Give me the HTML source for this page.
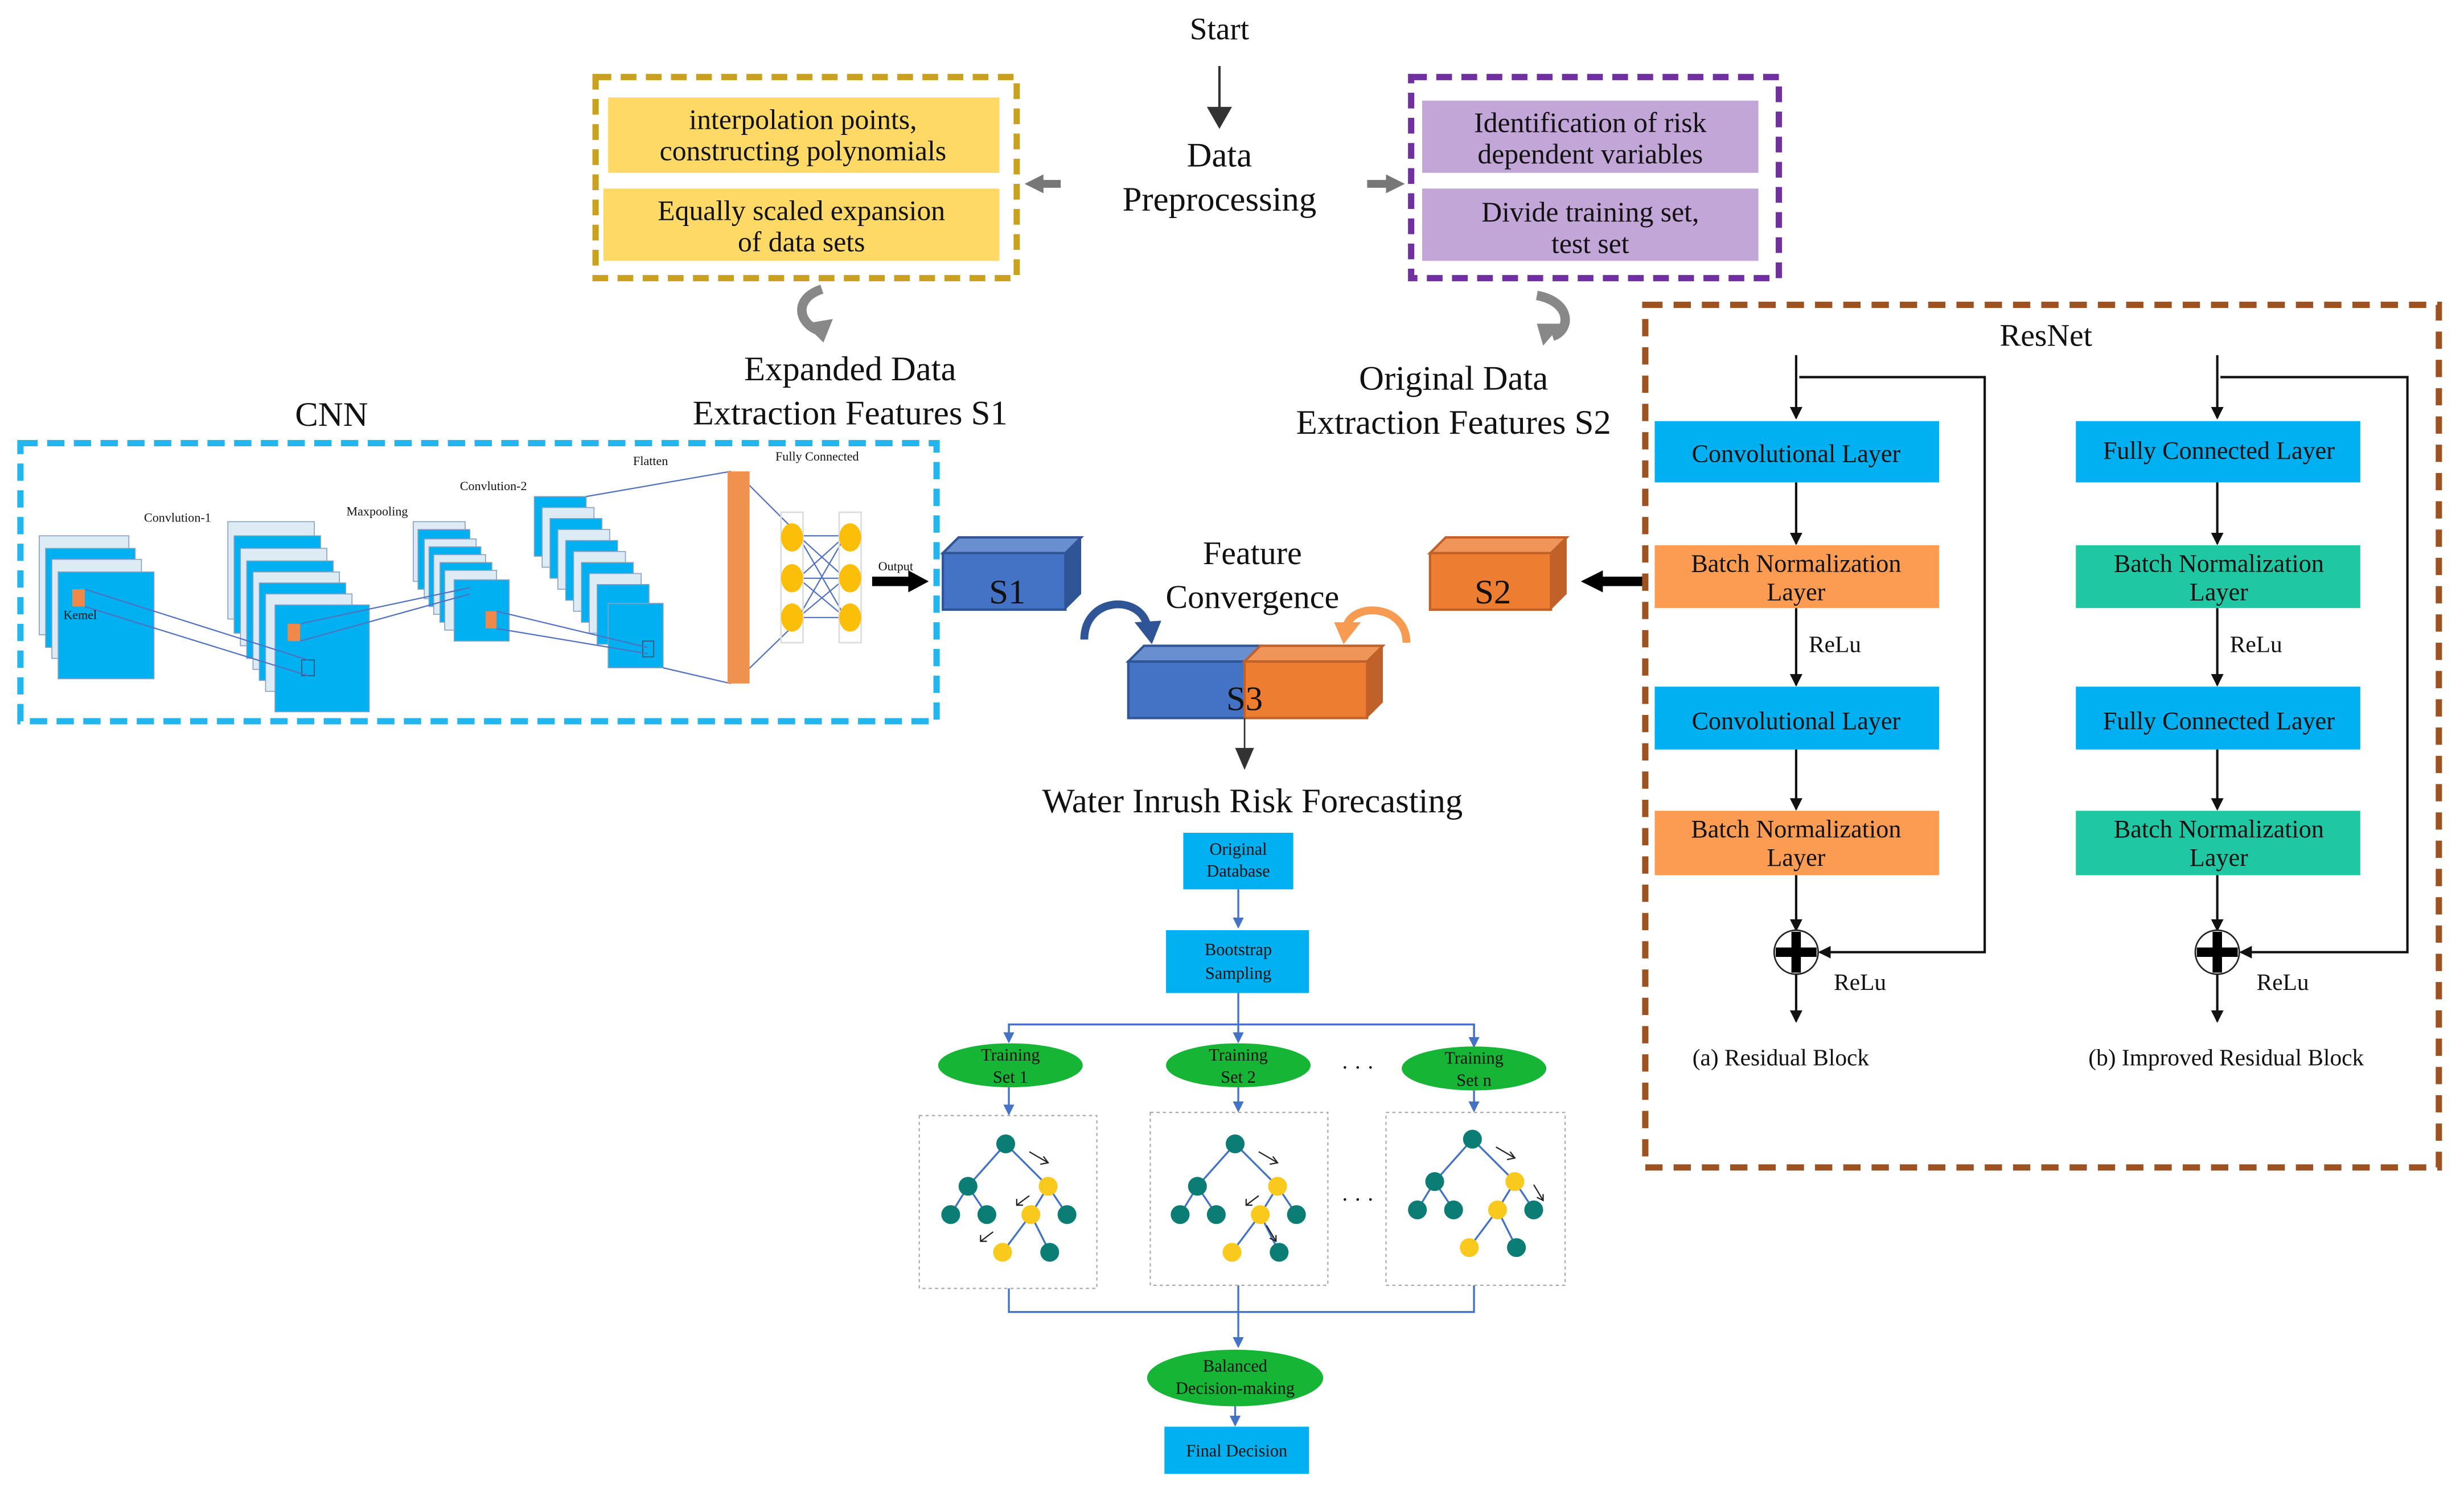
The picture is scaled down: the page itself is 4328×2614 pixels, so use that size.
<!DOCTYPE html>
<html><head><meta charset="utf-8"><style>
html,body{margin:0;padding:0;background:#fff;}
svg{display:block;font-family:"Liberation Serif",serif;}
text{font-family:"Liberation Serif",serif;fill:#111;}
</style></head><body>
<svg width="4328" height="2614" viewBox="0 0 1568 947" xmlns="http://www.w3.org/2000/svg" font-family="Liberation Serif, serif">
<defs>
<marker id="ak" markerWidth="8" markerHeight="8" refX="7" refY="4" orient="auto" markerUnits="userSpaceOnUse"><path d="M0,0 L8,4 L0,8 z" fill="#111"/></marker>
<marker id="ab" markerWidth="7" markerHeight="7" refX="6" refY="3.5" orient="auto" markerUnits="userSpaceOnUse"><path d="M0,0 L7,3.5 L0,7 z" fill="#4472c4"/></marker>
<marker id="ad" markerWidth="14" markerHeight="16" refX="12" refY="8" orient="auto" markerUnits="userSpaceOnUse"><path d="M0,0 L14,8 L0,16 z" fill="#333"/></marker>
</defs>
<rect width="1568" height="947" fill="#fff"/>

<text x="776" y="25" font-size="20" text-anchor="middle">Start</text>
<line x1="776" y1="42" x2="776" y2="80" stroke="#333" stroke-width="1.5" marker-end="url(#ad)"/>
<text x="776" y="106" font-size="22" text-anchor="middle">Data</text>
<text x="776" y="134" font-size="22" text-anchor="middle">Preprocessing</text>

<rect x="379" y="49" width="268" height="128" fill="none" stroke="#c9a11f" stroke-width="4" stroke-dasharray="10,6"/>
<rect x="387" y="62" width="249" height="48" fill="#ffd966"/>
<rect x="384" y="120" width="252" height="46" fill="#ffd966"/>
<text x="511" y="82" font-size="18" text-anchor="middle">interpolation points,</text>
<text x="511" y="102" font-size="18" text-anchor="middle">constructing polynomials</text>
<text x="510" y="140" font-size="18" text-anchor="middle">Equally scaled expansion</text>
<text x="510" y="160" font-size="18" text-anchor="middle">of data sets</text>
<path d="M675,117 L662,117" stroke="#777" stroke-width="5"/><path d="M664,111 L652,117 L664,123 z" fill="#777"/>

<rect x="898" y="49" width="234" height="128" fill="none" stroke="#7030a0" stroke-width="4" stroke-dasharray="10,6"/>
<rect x="905" y="64" width="214" height="46" fill="#c3a6d8"/>
<rect x="905" y="120" width="214" height="46" fill="#c3a6d8"/>
<text x="1012" y="84" font-size="18" text-anchor="middle">Identification of risk</text>
<text x="1012" y="104" font-size="18" text-anchor="middle">dependent variables</text>
<text x="1012" y="141" font-size="18" text-anchor="middle">Divide training set,</text>
<text x="1012" y="161" font-size="18" text-anchor="middle">test set</text>
<path d="M870,117 L884,117" stroke="#777" stroke-width="5"/><path d="M882,111 L894,117 L882,123 z" fill="#777"/>

<path d="M523,184 C505,190 508,205 520,210" fill="none" stroke="#888" stroke-width="6"/>
<path d="M512,206 L524,218 L530,203 z" fill="#888"/>
<path d="M978,188 C1000,192 1000,210 988,214" fill="none" stroke="#888" stroke-width="6"/>
<path d="M994,206 L982,220 L978,206 z" fill="#888"/>

<text x="541" y="242" font-size="22" text-anchor="middle">Expanded Data</text>
<text x="541" y="270" font-size="22" text-anchor="middle">Extraction Features S1</text>
<text x="925" y="248" font-size="22" text-anchor="middle">Original Data</text>
<text x="925" y="276" font-size="22" text-anchor="middle">Extraction Features S2</text>

<text x="211" y="271" font-size="22" text-anchor="middle">CNN</text>
<rect x="13" y="282" width="583" height="177" fill="none" stroke="#22b5ee" stroke-width="4" stroke-dasharray="11,6"/>
<g stroke="#8aa0c0" stroke-width="0.6">
<rect x="25" y="341" width="57" height="63" fill="#dcebf4"/>
<rect x="29" y="349" width="57" height="63" fill="#00b0f0"/>
<rect x="33" y="356" width="57" height="63" fill="#dcebf4"/>
<rect x="37" y="364" width="61" height="68" fill="#00b0f0"/>
<rect x="145" y="332" width="55" height="62" fill="#dcebf4"/>
<rect x="149" y="341" width="55" height="62" fill="#00b0f0"/>
<rect x="153" y="349" width="55" height="62" fill="#dcebf4"/>
<rect x="157" y="357" width="55" height="62" fill="#00b0f0"/>
<rect x="161" y="364" width="55" height="62" fill="#dcebf4"/>
<rect x="165" y="371" width="55" height="62" fill="#00b0f0"/>
<rect x="169" y="378" width="55" height="62" fill="#dcebf4"/>
<rect x="175" y="385" width="60" height="68" fill="#00b0f0"/>
<rect x="263" y="332" width="33" height="38" fill="#dcebf4"/>
<rect x="266" y="337" width="33" height="38" fill="#00b0f0"/>
<rect x="270" y="343" width="33" height="38" fill="#dcebf4"/>
<rect x="273" y="348" width="33" height="38" fill="#00b0f0"/>
<rect x="276" y="353" width="33" height="38" fill="#dcebf4"/>
<rect x="280" y="358" width="33" height="38" fill="#00b0f0"/>
<rect x="283" y="363" width="33" height="38" fill="#dcebf4"/>
<rect x="289" y="369" width="35" height="39" fill="#00b0f0"/>
<rect x="340" y="316" width="33" height="38" fill="#00b0f0"/>
<rect x="345" y="323" width="33" height="38" fill="#dcebf4"/>
<rect x="350" y="330" width="33" height="38" fill="#00b0f0"/>
<rect x="355" y="337" width="33" height="38" fill="#dcebf4"/>
<rect x="360" y="344" width="33" height="38" fill="#00b0f0"/>
<rect x="365" y="351" width="33" height="38" fill="#dcebf4"/>
<rect x="370" y="358" width="33" height="38" fill="#00b0f0"/>
<rect x="375" y="365" width="33" height="38" fill="#dcebf4"/>
<rect x="380" y="372" width="33" height="38" fill="#00b0f0"/>
<rect x="387" y="384" width="35" height="41" fill="#00b0f0"/>
</g>
<rect x="46" y="375" width="8" height="11" fill="#f0884a"/>
<rect x="183" y="397" width="8" height="11" fill="#f0884a"/>
<rect x="309" y="389" width="7" height="11" fill="#f0884a"/>
<rect x="192" y="420" width="8" height="10" fill="none" stroke="#305070" stroke-width="0.6"/>
<rect x="409" y="408" width="7" height="10" fill="none" stroke="#305070" stroke-width="0.6"/>
<g stroke="#5070c0" stroke-width="0.8" fill="none">
<path d="M54,375 L196,420 M54,386 L196,430"/>
<path d="M191,397 L299,374 M191,408 L299,378"/>
<path d="M316,389 L412,412 M316,400 L412,416"/>
<path d="M373,316 L465,300 M422,425 L465,435"/>
<path d="M470,302 L503,335 M470,432 L503,400"/>
<path d="M508,341 L538,368 M508,341 L538,393 M508,368 L538,341 M508,368 L538,393 M508,393 L538,341 M508,393 L538,368 M508,341 L538,341 M508,368 L538,368 M508,393 L538,393"/>
</g>
<rect x="463" y="300" width="14" height="135" fill="#f0924f"/>
<rect x="497" y="326" width="14" height="83" fill="none" stroke="#ddd" stroke-width="1"/>
<rect x="534" y="326" width="14" height="83" fill="none" stroke="#ddd" stroke-width="1"/>
<g fill="#fbbf0a">
<ellipse cx="504" cy="342" rx="7" ry="9"/><ellipse cx="504" cy="368" rx="7" ry="9"/><ellipse cx="504" cy="393" rx="7" ry="9"/>
<ellipse cx="541" cy="342" rx="7" ry="9"/><ellipse cx="541" cy="368" rx="7" ry="9"/><ellipse cx="541" cy="393" rx="7" ry="9"/>
</g>
<g font-size="8" text-anchor="middle">
<text x="113" y="332">Convlution-1</text>
<text x="240" y="328">Maxpooling</text>
<text x="314" y="312">Convlution-2</text>
<text x="414" y="296">Flatten</text>
<text x="520" y="293">Fully Connected</text>
<text x="570" y="363">Output</text>
<text x="51" y="394">Kemel</text>
</g>
<path d="M555,370 L580,370" stroke="#000" stroke-width="6"/><path d="M578,363 L591,370 L578,377 z" fill="#000"/>

<path d="M600,352 L610,342 L688,342 L678,352 z" fill="#6a8fd0" stroke="#2f5597" stroke-width="1.5"/>
<rect x="600" y="352" width="78" height="36" fill="#4472c4" stroke="#2f5597" stroke-width="1.5"/>
<path d="M678,352 L688,342 L688,378 L678,388 z" fill="#2f5597"/>
<text x="641" y="384" font-size="22" text-anchor="middle">S1</text>

<path d="M910,352 L920,342 L997,342 L987,352 z" fill="#f0955a" stroke="#c0612a" stroke-width="1.5"/>
<rect x="910" y="352" width="77" height="36" fill="#ed7d31" stroke="#c0612a" stroke-width="1.5"/>
<path d="M987,352 L997,342 L997,378 L987,388 z" fill="#c0612a"/>
<text x="950" y="384" font-size="22" text-anchor="middle">S2</text>
<path d="M1046,370 L1018,370" stroke="#000" stroke-width="6"/><path d="M1020,363 L1006,370 L1020,377 z" fill="#000"/>

<text x="797" y="359" font-size="21" text-anchor="middle">Feature</text>
<text x="797" y="387" font-size="21" text-anchor="middle">Convergence</text>

<path d="M718,421 L728,411 L802,411 L792,421 z" fill="#6a8fd0" stroke="#2f5597" stroke-width="1.5"/>
<rect x="718" y="421" width="74" height="36" fill="#4472c4" stroke="#2f5597" stroke-width="1.5"/>
<path d="M792,421 L802,411 L880,411 L870,421 z" fill="#f0955a" stroke="#c0612a" stroke-width="1.5"/>
<rect x="792" y="421" width="78" height="36" fill="#ed7d31" stroke="#c0612a" stroke-width="1.5"/>
<path d="M870,421 L880,411 L880,447 L870,457 z" fill="#c0612a"/>
<text x="792" y="452" font-size="22" text-anchor="middle">S3</text>
<path d="M690,407 C690,380 725,378 730,398" fill="none" stroke="#2f5597" stroke-width="5"/>
<path d="M722,396 L733,410 L739,395 z" fill="#2f5597"/>
<path d="M895,409 C895,385 862,383 857,398" fill="none" stroke="#f79a52" stroke-width="5"/>
<path d="M849,396 L855,410 L866,396 z" fill="#f79a52"/>
<line x1="792" y1="457" x2="792" y2="478" stroke="#333" stroke-width="1"/>
<path d="M786,476 L792,490 L798,476 z" fill="#333"/>

<text x="797" y="517" font-size="22" text-anchor="middle">Water Inrush Risk Forecasting</text>
<rect x="753" y="530" width="70" height="36" fill="#00b0f0"/>
<text x="788" y="544" font-size="11" text-anchor="middle">Original</text>
<text x="788" y="558" font-size="11" text-anchor="middle">Database</text>
<g stroke="#4472c4" stroke-width="1.2" fill="none">
<line x1="788" y1="566" x2="788" y2="590" marker-end="url(#ab)"/>
<line x1="788" y1="632" x2="788" y2="663" marker-end="url(#ab)"/>
<path d="M642,663 L642,652 L938,652 L938,667"/>
<line x1="642" y1="652" x2="642" y2="663" marker-end="url(#ab)"/>
<line x1="938" y1="652" x2="938" y2="666" marker-end="url(#ab)"/>
<line x1="642" y1="692" x2="642" y2="709" marker-end="url(#ab)"/>
<line x1="788" y1="692" x2="788" y2="707" marker-end="url(#ab)"/>
<line x1="938" y1="694" x2="938" y2="707" marker-end="url(#ab)"/>
<path d="M642,820 L642,835 L938,835 L938,818"/>
<line x1="788" y1="818" x2="788" y2="857" marker-end="url(#ab)"/>
<line x1="786" y1="895" x2="786" y2="907" marker-end="url(#ab)"/>
</g>
<rect x="742" y="592" width="91" height="40" fill="#00b0f0"/>
<text x="788" y="608" font-size="11" text-anchor="middle">Bootstrap</text>
<text x="788" y="623" font-size="11" text-anchor="middle">Sampling</text>
<g fill="#16b536">
<ellipse cx="643" cy="678" rx="46" ry="14"/><ellipse cx="788" cy="678" rx="46" ry="14"/><ellipse cx="938" cy="680" rx="46" ry="14"/>
<ellipse cx="786" cy="877" rx="56" ry="18"/>
</g>
<g font-size="11" text-anchor="middle">
<text x="643" y="675">Training</text><text x="643" y="689">Set 1</text>
<text x="788" y="675">Training</text><text x="788" y="689">Set 2</text>
<text x="938" y="677">Training</text><text x="938" y="691">Set n</text>
<text x="786" y="873">Balanced</text><text x="786" y="887">Decision-making</text>
</g>
<text x="864" y="684" font-size="14" text-anchor="middle">· · ·</text>
<text x="864" y="768" font-size="14" text-anchor="middle">· · ·</text>
<g fill="none" stroke="#aaa" stroke-width="0.8" stroke-dasharray="2,2">
<rect x="585" y="710" width="113" height="110"/><rect x="732" y="708" width="113" height="110"/><rect x="882" y="708" width="114" height="110"/>
</g>
<g id="t1">
<g stroke="#4472c4" stroke-width="1.2">
<path d="M640,728 L616,755 M640,728 L667,755 M616,755 L605,773 M616,755 L628,773 M667,755 L656,773 M667,755 L679,773 M656,773 L638,797 M656,773 L668,797"/>
</g>
<g fill="#0b7d75"><circle cx="640" cy="728" r="6"/><circle cx="616" cy="755" r="6"/><circle cx="605" cy="773" r="6"/><circle cx="628" cy="773" r="6"/><circle cx="679" cy="773" r="6"/><circle cx="668" cy="797" r="6"/></g>
<g fill="#f9c91e"><circle cx="667" cy="755" r="6"/><circle cx="656" cy="773" r="6"/><circle cx="638" cy="797" r="6"/></g>
</g>
<g stroke="#222" stroke-width="0.8" fill="none">
<path d="M655,733 L667,740 M664,736 L667,740 L662,741"/>
<path d="M655,761 L647,767 M647,763 L647,767 L651,767"/>
<path d="M632,784 L624,790 M624,786 L624,790 L628,790"/>
</g>
<use href="#t1" x="146" y="0"/>
<g stroke="#222" stroke-width="0.8" fill="none">
<path d="M801,733 L813,740 M810,736 L813,740 L808,741"/>
<path d="M801,761 L793,767 M793,763 L793,767 L797,767"/>
<path d="M806,780 L812,790 M812,786 L812,790 L808,788"/>
</g>
<use href="#t1" x="297" y="-3"/>
<g stroke="#222" stroke-width="0.8" fill="none">
<path d="M952,730 L964,737 M961,733 L964,737 L959,738"/>
<path d="M976,754 L982,764 M982,760 L982,764 L978,762"/>
</g>
<rect x="741" y="908" width="92" height="30" fill="#00b0f0"/>
<text x="787" y="927" font-size="11" text-anchor="middle">Final Decision</text>

<rect x="1047" y="194" width="505" height="549" fill="none" stroke="#9c5221" stroke-width="4" stroke-dasharray="11,7"/>
<text x="1302" y="220" font-size="20" text-anchor="middle">ResNet</text>
<g stroke="#111" stroke-width="1.5" fill="none">
<line x1="1143" y1="226" x2="1143" y2="266" marker-end="url(#ak)"/>
<path d="M1145,240 L1263,240 L1263,606 L1158,606" marker-end="url(#ak)"/>
<line x1="1143" y1="307" x2="1143" y2="346" marker-end="url(#ak)"/>
<line x1="1143" y1="387" x2="1143" y2="436" marker-end="url(#ak)"/>
<line x1="1143" y1="477" x2="1143" y2="515" marker-end="url(#ak)"/>
<line x1="1143" y1="557" x2="1143" y2="592" marker-end="url(#ak)"/>
<line x1="1143" y1="620" x2="1143" y2="650" marker-end="url(#ak)"/>
<line x1="1411" y1="226" x2="1411" y2="266" marker-end="url(#ak)"/>
<path d="M1413,240 L1532,240 L1532,606 L1426,606" marker-end="url(#ak)"/>
<line x1="1411" y1="306" x2="1411" y2="346" marker-end="url(#ak)"/>
<line x1="1411" y1="387" x2="1411" y2="436" marker-end="url(#ak)"/>
<line x1="1411" y1="477" x2="1411" y2="515" marker-end="url(#ak)"/>
<line x1="1411" y1="557" x2="1411" y2="592" marker-end="url(#ak)"/>
<line x1="1411" y1="620" x2="1411" y2="650" marker-end="url(#ak)"/>
</g>
<rect x="1053" y="268" width="181" height="39" fill="#00b0f0"/>
<rect x="1053" y="347" width="181" height="40" fill="#fb9c52"/>
<rect x="1053" y="437" width="181" height="40" fill="#00b0f0"/>
<rect x="1053" y="516" width="181" height="41" fill="#fb9c52"/>
<rect x="1321" y="268" width="181" height="39" fill="#00b0f0"/>
<rect x="1321" y="347" width="181" height="40" fill="#1fc8a2"/>
<rect x="1321" y="437" width="181" height="40" fill="#00b0f0"/>
<rect x="1321" y="516" width="181" height="41" fill="#1fc8a2"/>
<g font-size="16" text-anchor="middle">
<text x="1143" y="294">Convolutional Layer</text>
<text x="1143" y="364">Batch Normalization</text><text x="1143" y="382">Layer</text>
<text x="1143" y="464">Convolutional Layer</text>
<text x="1143" y="533">Batch Normalization</text><text x="1143" y="551">Layer</text>
<text x="1412" y="292">Fully Connected Layer</text>
<text x="1412" y="364">Batch Normalization</text><text x="1412" y="382">Layer</text>
<text x="1412" y="464">Fully Connected Layer</text>
<text x="1412" y="533">Batch Normalization</text><text x="1412" y="551">Layer</text>
</g>
<g font-size="15">
<text x="1151" y="415">ReLu</text><text x="1167" y="630">ReLu</text>
<text x="1419" y="415">ReLu</text><text x="1436" y="630">ReLu</text>
<text x="1077" y="678">(a) Residual Block</text>
<text x="1329" y="678">(b) Improved Residual Block</text>
</g>
<circle cx="1143" cy="606" r="14" fill="#fff" stroke="#222" stroke-width="1"/>
<path d="M1130,606 L1156,606 M1143,593 L1143,619" stroke="#000" stroke-width="6"/>
<circle cx="1411" cy="606" r="14" fill="#fff" stroke="#222" stroke-width="1"/>
<path d="M1398,606 L1424,606 M1411,593 L1411,619" stroke="#000" stroke-width="6"/>
</svg>
</body></html>
